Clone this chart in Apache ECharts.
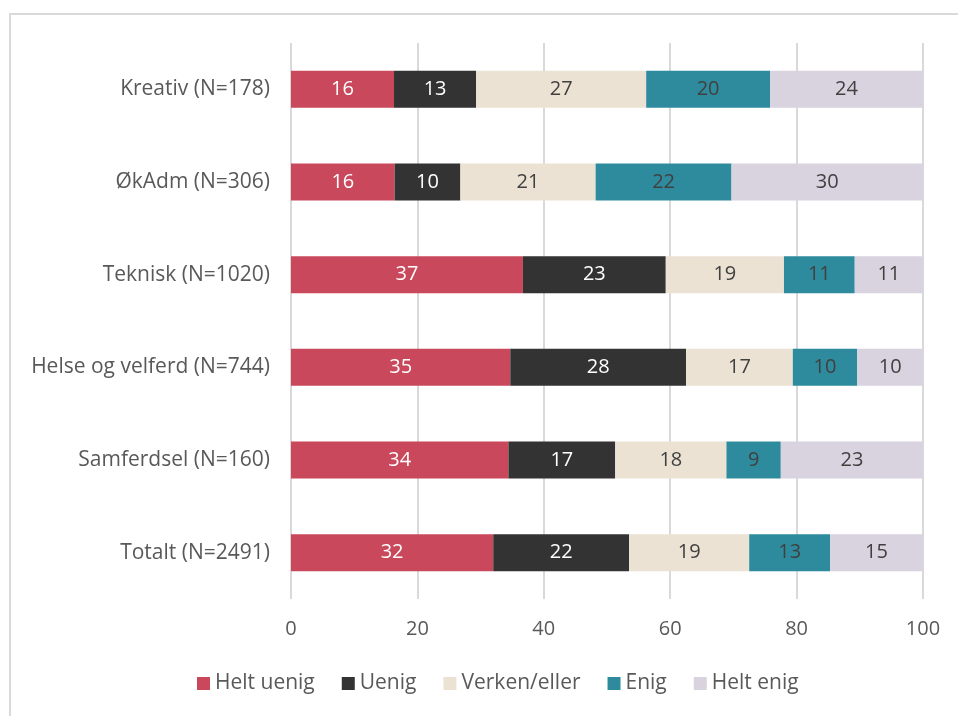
<!DOCTYPE html>
<html>
<head>
<meta charset="utf-8">
<script src="https://cdn.jsdelivr.net/npm/echarts@6/dist/echarts.min.js"></script>
<style>
  html, body { margin: 0; padding: 0; background: #fff; }
  #chart { width: 958px; height: 716px; }
</style>
</head>
<body>
<div id="chart"></div>
<script>
// categories, top to bottom as in the picture
var categories = ['Kreativ (N=178)', 'ØkAdm (N=306)', 'Teknisk (N=1020)', 'Helse og velferd (N=744)', 'Samferdsel (N=160)', 'Totalt (N=2491)'];
var seriesNames = ['Helt uenig', 'Uenig', 'Verken/eller', 'Enig', 'Helt enig'];

// percentages per category (same order as categories)
var heltUenig = [16.3, 16.4, 36.7, 34.7, 34.4, 32.0];
var uenig     = [13.0, 10.4, 22.6, 27.8, 16.9, 21.5];
var verken    = [26.9, 21.4, 18.7, 16.9, 17.6, 19.0];
var enig      = [19.6, 21.5, 11.2, 10.2,  8.6, 12.8];
var heltEnig  = [24.2, 30.3, 10.8, 10.4, 22.5, 14.7];

var colors = ['#C9485B', '#333333', '#ECE2D4', '#2E8B9E', '#D9D2DF'];
var labelColors = ['#ffffff', '#ffffff', '#404040', '#404040', '#404040'];
var allData = [heltUenig, uenig, verken, enig, heltEnig];

var font = '"Open Sans", Lato, sans-serif';

var chart = echarts.init(document.getElementById('chart'));

var series = seriesNames.map(function (name, i) {
  return {
    name: name,
    type: 'bar',
    stack: 'total',
    barWidth: 37,
    data: allData[i],
    itemStyle: { color: colors[i] },
    label: {
      show: true,
      position: 'inside',
      color: labelColors[i],
      fontSize: 20,
      fontFamily: font,
      formatter: function (p) { return Math.round(p.value); }
    }
  };
});

var option = {
  animation: false,
  color: colors,
  graphic: [{
    type: 'rect',
    shape: { x: 10, y: 14, width: 1000, height: 800 },
    style: { fill: 'none', stroke: '#d9d9d9', lineWidth: 2 },
    silent: true
  }],
  grid: { left: 291, right: 35, top: 43, bottom: 117, containLabel: false },
  legend: {
    bottom: 17,
    left: 192,
    itemWidth: 13,
    itemHeight: 13,
    itemGap: 27,
    icon: 'rect',
    textStyle: { fontSize: 21, color: '#595959', fontFamily: font },
    data: seriesNames
  },
  xAxis: {
    type: 'value',
    min: 0,
    max: 100,
    interval: 20,
    axisLine: { show: false },
    axisTick: { show: false },
    splitLine: { show: true, lineStyle: { color: '#d9d9d9', width: 2 } },
    axisLabel: { fontSize: 20, color: '#595959', fontFamily: font, margin: 20 }
  },
  yAxis: {
    type: 'category',
    inverse: true,
    data: categories,
    axisLine: { show: false },
    axisTick: { show: false },
    axisLabel: { fontSize: 21, color: '#595959', fontFamily: font, margin: 21 }
  },
  series: series
};

chart.setOption(option);
</script>
</body>
</html>
